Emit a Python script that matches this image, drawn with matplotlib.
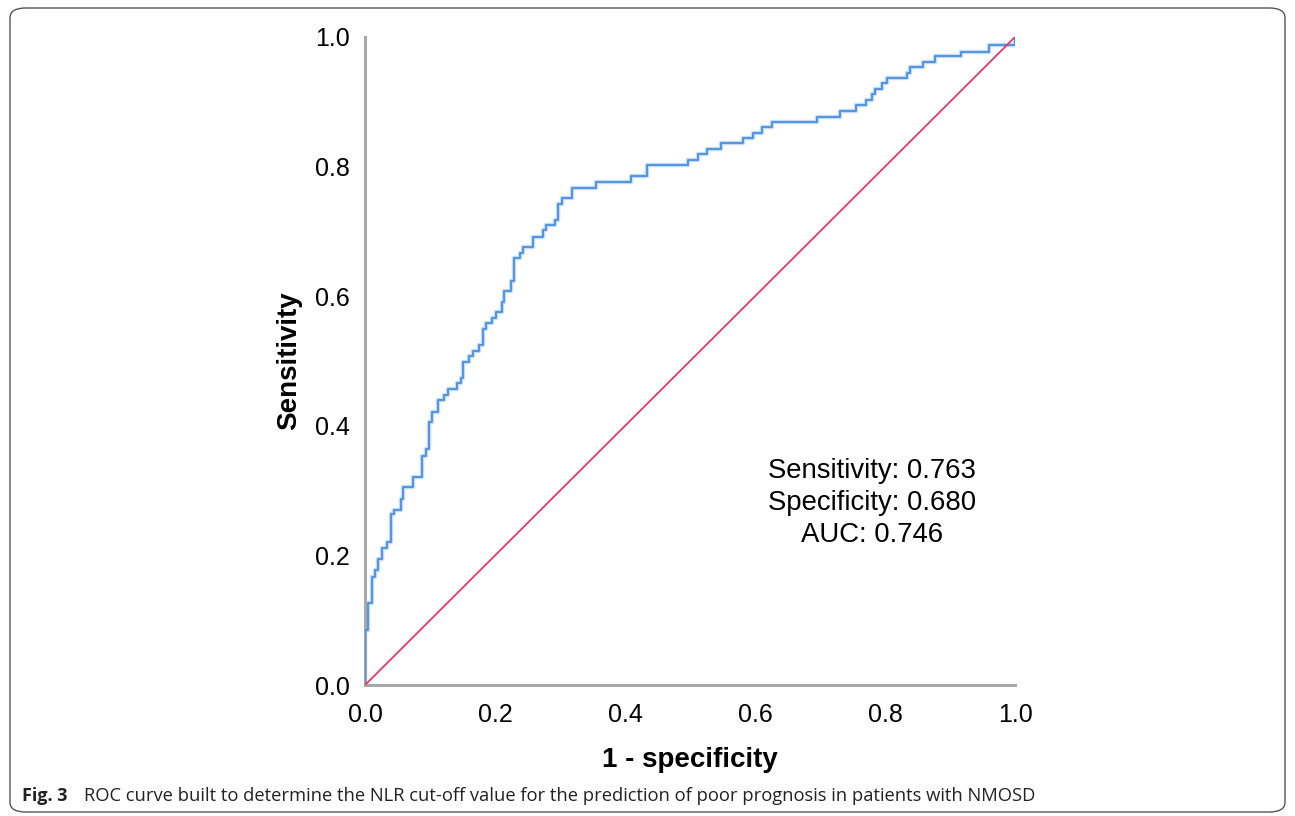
import numpy as np
import matplotlib.pyplot as plt
from matplotlib.patches import FancyBboxPatch

# ROC curve corners (1 - specificity, sensitivity)
fpr = [0.000, 0.000, 0.005, 0.011, 0.015, 0.020, 0.026, 0.034, 0.040, 0.045,
       0.055, 0.058, 0.074, 0.088, 0.094, 0.098, 0.103, 0.112, 0.122, 0.128,
       0.142, 0.148, 0.151, 0.160, 0.166, 0.175, 0.182, 0.186, 0.195, 0.202,
       0.211, 0.214, 0.225, 0.229, 0.238, 0.243, 0.258, 0.274, 0.278, 0.292,
       0.297, 0.303, 0.318, 0.355, 0.409, 0.434, 0.497, 0.512, 0.526, 0.548,
       0.582, 0.597, 0.611, 0.626, 0.695, 0.731, 0.755, 0.771, 0.780, 0.785,
       0.795, 0.803, 0.834, 0.838, 0.858, 0.877, 0.917, 0.960, 1.000, 1.000]
tpr = [0.000, 0.085, 0.127, 0.167, 0.177, 0.194, 0.211, 0.221, 0.264, 0.270,
       0.287, 0.306, 0.321, 0.353, 0.364, 0.406, 0.421, 0.440, 0.448, 0.457,
       0.466, 0.474, 0.498, 0.508, 0.515, 0.525, 0.549, 0.559, 0.566, 0.576,
       0.591, 0.608, 0.623, 0.659, 0.667, 0.676, 0.691, 0.702, 0.710, 0.718,
       0.742, 0.752, 0.767, 0.776, 0.785, 0.802, 0.810, 0.819, 0.827, 0.836,
       0.844, 0.852, 0.861, 0.869, 0.877, 0.886, 0.895, 0.903, 0.912, 0.920,
       0.929, 0.937, 0.944, 0.954, 0.961, 0.971, 0.977, 0.988, 0.988, 1.000]

ref_line = [0.0, 1.0]
ticks = [0.0, 0.2, 0.4, 0.6, 0.8, 1.0]
stats_text = "Sensitivity: 0.763\nSpecificity: 0.680\nAUC: 0.746"
caption_bold = "Fig. 3"
caption = "ROC curve built to determine the NLR cut-off value for the prediction of poor prognosis in patients with NMOSD"

plt.rcParams['font.family'] = ['Liberation Sans', 'DejaVu Sans']

fig = plt.figure(figsize=(12.95, 8.16), dpi=100)
ax = fig.add_axes([0.2819, 0.1605, 0.5019, 0.7942])

# outer rounded frame
frame = FancyBboxPatch((10/1295, 4/816), 1275/1295, 804/816,
                       boxstyle="round,pad=0,rounding_size=0.012",
                       transform=fig.transFigure, facecolor='none',
                       edgecolor='#555555', linewidth=1.0)
fig.patches.append(frame)

# faint halo + curve
ax.step(fpr, tpr, where='post', color='#9cc3f0', linewidth=3.2, alpha=0.6, zorder=2)
ax.step(fpr, tpr, where='post', color='#4a8fe0', linewidth=1.3, zorder=3)
ax.plot(ref_line, ref_line, color='#e63a62', linewidth=1.3, zorder=4)

ax.set_xlim(0, 1)
ax.set_ylim(0, 1)
ax.set_xticks(ticks)
ax.set_yticks(ticks)
ax.set_xticklabels([f"{t:.1f}" for t in ticks])
ax.set_yticklabels([f"{t:.1f}" for t in ticks])
ax.tick_params(axis='x', length=0, labelsize=18, pad=13)
ax.tick_params(axis='y', length=0, labelsize=18, pad=11)
for s in ['top', 'right']:
    ax.spines[s].set_visible(False)
for s in ['left', 'bottom']:
    ax.spines[s].set_color('#a8a8a8')
    ax.spines[s].set_linewidth(2.2)

ax.set_xlabel("1 - specificity", fontsize=20, fontweight='bold', labelpad=14)
ax.set_ylabel("Sensitivity", fontsize=20, fontweight='bold', labelpad=9)

ax.text(0.78, 0.281, stats_text, fontsize=19.8, ha='center', va='center',
        linespacing=1.3, transform=ax.transAxes)

fig.text(22/1295, 1 - 796/816, caption_bold, fontsize=13, fontweight='bold',
         family='Open Sans', va='center', ha='left', color='#222222')
fig.text(84/1295, 1 - 796/816, caption, fontsize=13.2, family='Open Sans',
         va='center', ha='left', color='#222222')

fig.savefig("out.png", dpi=100)
